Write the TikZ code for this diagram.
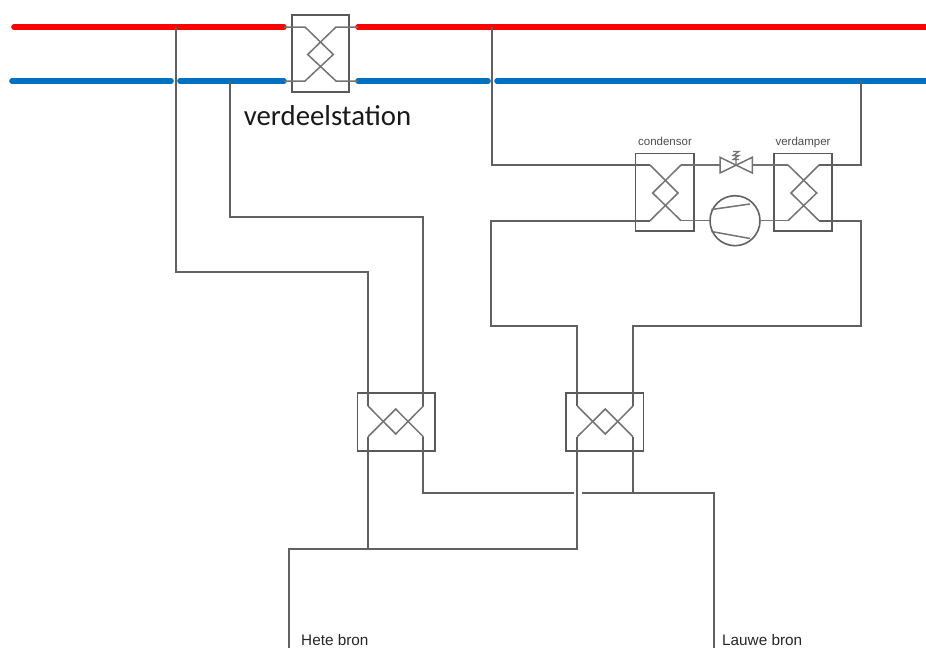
\documentclass[tikz,border=0pt]{standalone}
\usepackage{fontspec}
\setmainfont{Liberation Sans}
\newfontfamily\calfont{Carlito}
\definecolor{busblue}{HTML}{0070C0}
\tikzset{
  x=1pt,y=-1pt,
  pipe/.style={draw=black!62,line width=1.7pt,line join=miter},
  thin pipe/.style={draw=black!55,line width=1.5pt},
  redbus/.style={draw=red,line width=5.6pt,line cap=round},
  bluebus/.style={draw=busblue,line width=5.6pt,line cap=round},
  hxbox/.style={draw=black!65,line width=1.7pt,fill=none,inner sep=0pt,outer sep=0pt},
  tinylabel/.style={font=\fontsize{11.5}{13}\selectfont,text=black!70,inner sep=0pt,anchor=base},
  srclabel/.style={font=\fontsize{15.3}{18}\selectfont,text=black!85,inner sep=0pt,anchor=base west},
}
\begin{document}
\begin{tikzpicture}
\useasboundingbox (0,0) rectangle (926,648);
% named junctions and ends
\coordinate (rA) at (14,27); \coordinate (rB) at (284,27);
\coordinate (rC) at (358,27); \coordinate (rD) at (930,27);
\coordinate (bA) at (12,81); \coordinate (bB) at (171,81);
\coordinate (bC) at (180,81); \coordinate (bD) at (284,81);
\coordinate (bE) at (358,81); \coordinate (bF) at (488,81);
\coordinate (bG) at (497,81); \coordinate (bH) at (930,81);
% buses
\draw[redbus] (rA) -- (rB);
\draw[redbus] (rC) -- (rD);
\draw[bluebus] (bA) -- (bB);
\draw[bluebus] (bC) -- (bD);
\draw[bluebus] (bE) -- (bF);
\draw[bluebus] (bG) -- (bH);

% top station
\node[hxbox,minimum width=57.5pt,minimum height=77.5pt] (st) at (320.5,53.5) {};
\coordinate (stLT) at (305,27); \coordinate (stLB) at (305,81);
\coordinate (stRT) at (336,27); \coordinate (stRB) at (336,81);
\coordinate (stVL) at (307.7,54.5); \coordinate (stVR) at (333.3,54.5);
\draw[thin pipe] (rB) -- (stLT) -- (stVR) -- (stLB) -- (bD);
\draw[thin pipe] (rC) -- (stRT) -- (stVL) -- (stRB) -- (bE);
\node[font=\calfont\fontsize{28.8}{32}\selectfont,text=black!90,inner sep=0pt,anchor=base] (stl) at (327.5,125) {verdeelstation};

% condensor
\node[hxbox,minimum width=58.7pt,minimum height=77.7pt] (co) at (664.7,192.2) {};
\coordinate (coLT) at (650,165); \coordinate (coLB) at (650,220.7);
\coordinate (coRT) at (681,165); \coordinate (coRB) at (681,220.7);
\coordinate (coVL) at (652.7,193); \coordinate (coVR) at (678,193);
\draw[thin pipe] (coLT) -- (coVR) -- (coLB);
\draw[thin pipe] (coRT) -- (coVL) -- (coRB);
\node[tinylabel] (col) at (665,145) {condensor};

% verdamper
\node[hxbox,minimum width=58pt,minimum height=77.7pt] (ve) at (803.3,192.2) {};
\coordinate (veLT) at (788,165); \coordinate (veLB) at (788,220.7);
\coordinate (veRT) at (819,165); \coordinate (veRB) at (819,220.7);
\coordinate (veVL) at (791,193); \coordinate (veVR) at (816.7,193);
\draw[thin pipe] (veLT) -- (veVR) -- (veLB);
\draw[thin pipe] (veRT) -- (veVL) -- (veRB);
\node[tinylabel] (vel) at (803,145) {verdamper};

% expansion valve
\coordinate (vaL) at (720,165); \coordinate (vaR) at (752.3,165); \coordinate (vaC) at (736,165);
\draw[thin pipe] (720,157.3) -- (752.3,173) -- (752.3,157.3) -- (720,173) -- cycle;
\draw[thin pipe,line width=1.1pt] (vaC) -- (736,155.5) (733,151.5) -- (739,151.5) -- (733,155.5) -- (739,155.5) -- (733,159.5) -- (739,159.5);
\draw[thin pipe] (coRT) -- (vaL);
\draw[thin pipe] (vaR) -- (veLT);

% compressor
\node[draw=black!62,line width=1.6pt,circle,minimum size=50pt,inner sep=0pt,outer sep=0pt] (cp) at (735,220.7) {};
\draw[thin pipe] (711.5,209.5) -- (750,204);
\draw[thin pipe] (711.5,231.5) -- (750,238.5);
\draw[thin pipe] (coRB) -- (cp.west);
\draw[thin pipe] (cp.east) -- (veLB);

% lower exchangers
\node[hxbox,minimum width=77.7pt,minimum height=58.3pt] (h1) at (396.2,421.8) {};
\coordinate (h1LT) at (368,406); \coordinate (h1RT) at (423.3,406);
\coordinate (h1LB) at (368,436.7); \coordinate (h1RB) at (423.3,436.7);
\coordinate (h1VT) at (395.7,409); \coordinate (h1VB) at (395.7,434);
\draw[thin pipe] (h1LT) -- (h1VB) -- (h1RT);
\draw[thin pipe] (h1LB) -- (h1VT) -- (h1RB);

\node[hxbox,minimum width=77.7pt,minimum height=58.3pt] (h2) at (604.5,421.8) {};
\coordinate (h2LT) at (577.3,406); \coordinate (h2RT) at (633,406);
\coordinate (h2LB) at (577.3,436.7); \coordinate (h2RB) at (633,436.7);
\coordinate (h2VT) at (605.3,409); \coordinate (h2VB) at (605.3,434);
\draw[thin pipe] (h2LT) -- (h2VB) -- (h2RT);
\draw[thin pipe] (h2LB) -- (h2VT) -- (h2RB);

% piping
\coordinate (j1) at (176,27); \coordinate (j2) at (230,81);
\coordinate (j3) at (491.7,27); \coordinate (j4) at (861,81);
\draw[pipe] (j1) |- (h1LT |- 0,272) -- (h1LT);
\draw[pipe] (j2) |- (h1RT |- 0,217) -- (h1RT);
\draw[pipe] (j3) |- (coLT);
\draw[pipe] (j4) |- (veRT);
\coordinate (cL) at (491,220.7); \coordinate (cM) at (491,326);
\draw[pipe] (coLB) -- (cL) -- (cM) -- (h2LT |- cM) -- (h2LT);
\coordinate (vR) at (861,220.7); \coordinate (vM) at (861,326);
\draw[pipe] (veRB) -- (vR) -- (vM) -- (h2RT |- vM) -- (h2RT);

\coordinate (low) at (368,549); \coordinate (hot) at (289,648); \coordinate (hc) at (289,549);
\draw[pipe] (h1LB) -- (low);
\draw[pipe] (h2LB) -- (h2LB |- low) -- (hc) -- (hot);
\coordinate (m1) at (423.3,493); \coordinate (gapL) at (573.5,493); \coordinate (gapR) at (581.7,493);
\coordinate (m2) at (714,493); \coordinate (warm) at (714,648);
\draw[pipe] (h1RB) -- (m1) -- (gapL);
\draw[pipe] (gapR) -- (m2) -- (warm);
\draw[pipe] (h2RB) -- (h2RB |- m2);

\node[srclabel] (hl) at (301,645.5) {Hete bron};
\node[srclabel] (ll) at (722,645.5) {Lauwe bron};
\end{tikzpicture}
\end{document}
